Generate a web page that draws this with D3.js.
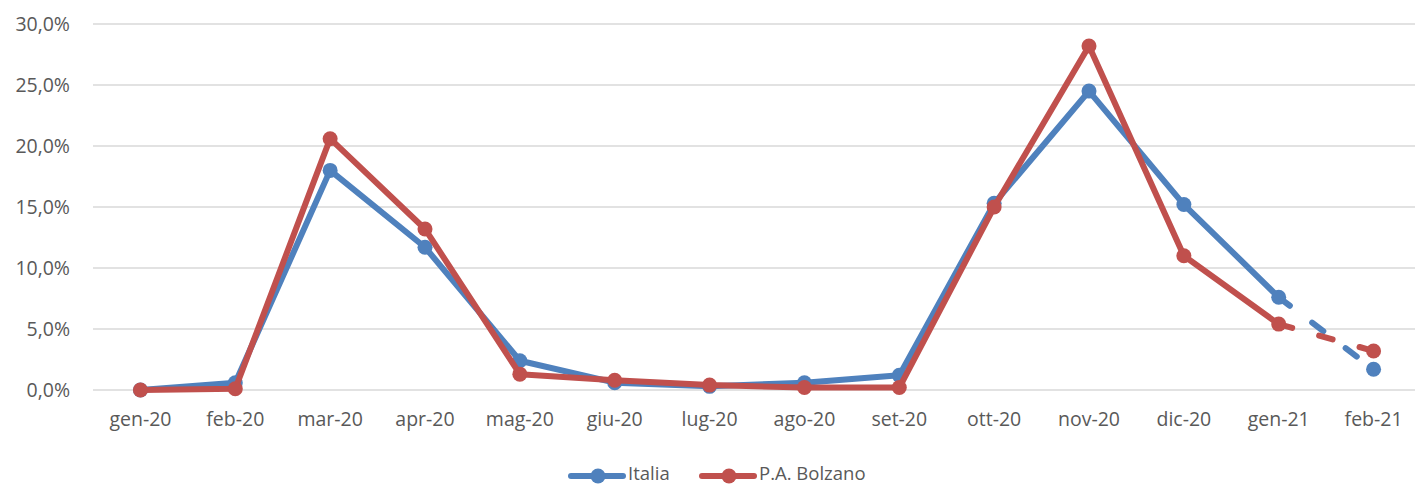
<!DOCTYPE html>
<html>
<head>
<meta charset="utf-8">
<script src="https://cdn.jsdelivr.net/npm/d3@7"></script>
<style>
  body { margin: 0; background: #fff; overflow: hidden; }
  svg text { font-family: "Open Sans", sans-serif; fill: #595959; }
</style>
</head>
<body>
<div id="chart"></div>
<script>
// Categories and series
const months = ["gen-20", "feb-20", "mar-20", "apr-20", "mag-20", "giu-20", "lug-20",
  "ago-20", "set-20", "ott-20", "nov-20", "dic-20", "gen-21", "feb-21"];
const italia = [0.0, 0.6, 18.0, 11.7, 2.4, 0.6, 0.3, 0.6, 1.2, 15.3, 24.5, 15.2, 7.6, 1.7];
const bolzano = [0.0, 0.1, 20.6, 13.2, 1.3, 0.8, 0.4, 0.2, 0.2, 15.0, 28.2, 11.0, 5.4, 3.2];
const yTicks = [0, 5, 10, 15, 20, 25, 30];

const series = [
  { name: "Italia", values: italia, color: "#4F81BD" },
  { name: "P.A. Bolzano", values: bolzano, color: "#C0504D" }
];

const width = 1415, height = 486;
const margin = { top: 24, right: -6, bottom: 96, left: 93 };

const svg = d3.select("#chart")
  .append("svg")
  .attr("width", width)
  .attr("height", height);

const x = d3.scaleBand()
  .domain(months)
  .range([margin.left, width - margin.right]);

const y = d3.scaleLinear()
  .domain([0, 30])
  .range([height - margin.bottom, margin.top]);

const fmt = v => d3.format(".1f")(v).replace(".", ",") + "%";

// Gridlines
svg.append("g")
  .selectAll("line")
  .data(yTicks)
  .join("line")
  .attr("x1", margin.left)
  .attr("x2", width - margin.right)
  .attr("y1", d => y(d))
  .attr("y2", d => y(d))
  .attr("stroke", "#D9D9D9")
  .attr("stroke-width", 1.3);

// Y axis labels
const yAxis = svg.append("g")
  .attr("transform", `translate(${margin.left - 23},0)`)
  .call(d3.axisLeft(y).tickValues(yTicks).tickFormat(fmt).tickSize(0));
yAxis.select(".domain").remove();
yAxis.selectAll("text")
  .attr("x", 0)
  .attr("font-size", "19.5px")
  .attr("font-family", "Open Sans, sans-serif")
  .style("fill", "#595959");

// X axis labels
const xAxis = svg.append("g")
  .attr("transform", `translate(0,${height - margin.bottom})`)
  .call(d3.axisBottom(x).tickSize(0));
xAxis.select(".domain").remove();
xAxis.selectAll("text")
  .attr("y", 22)
  .attr("font-size", "19.5px")
  .attr("font-family", "Open Sans, sans-serif")
  .style("fill", "#595959");

const cx = m => x(m) + x.bandwidth() / 2;
const line = d3.line()
  .x(d => cx(d.m))
  .y(d => y(d.v));

const n = months.length;
series.forEach(s => {
  const pts = s.values.map((v, i) => ({ m: months[i], v }));
  // solid part
  svg.append("path")
    .datum(pts.slice(0, n - 1))
    .attr("d", line)
    .attr("fill", "none")
    .attr("stroke", s.color)
    .attr("stroke-width", 6)
    .attr("stroke-linejoin", "round")
    .attr("stroke-linecap", "round");
  // dashed last segment
  svg.append("path")
    .datum(pts.slice(n - 2))
    .attr("d", line)
    .attr("fill", "none")
    .attr("stroke", s.color)
    .attr("stroke-width", 6)
    .attr("stroke-dasharray", "14,28")
    .attr("stroke-linecap", "round");
  // markers
  svg.append("g")
    .selectAll("circle")
    .data(pts)
    .join("circle")
    .attr("cx", d => cx(d.m))
    .attr("cy", d => y(d.v))
    .attr("r", 7.5)
    .attr("fill", s.color);
});

// Legend
const legendItems = [
  { s: series[0], x: 571 },
  { s: series[1], x: 702 }
];
const ly = 476;
legendItems.forEach(({ s, x: lx }) => {
  const g = svg.append("g").attr("transform", `translate(${lx},${ly})`);
  g.append("line")
    .attr("x1", 0).attr("x2", 52)
    .attr("y1", 0).attr("y2", 0)
    .attr("stroke", s.color)
    .attr("stroke-width", 6)
    .attr("stroke-linecap", "round");
  g.append("circle")
    .attr("cx", 27).attr("cy", 0).attr("r", 7.5)
    .attr("fill", s.color);
  g.append("text")
    .attr("x", 57)
    .attr("y", 4)
    .attr("font-size", "18.5px")
    .text(s.name);
});
</script>
</body>
</html>
